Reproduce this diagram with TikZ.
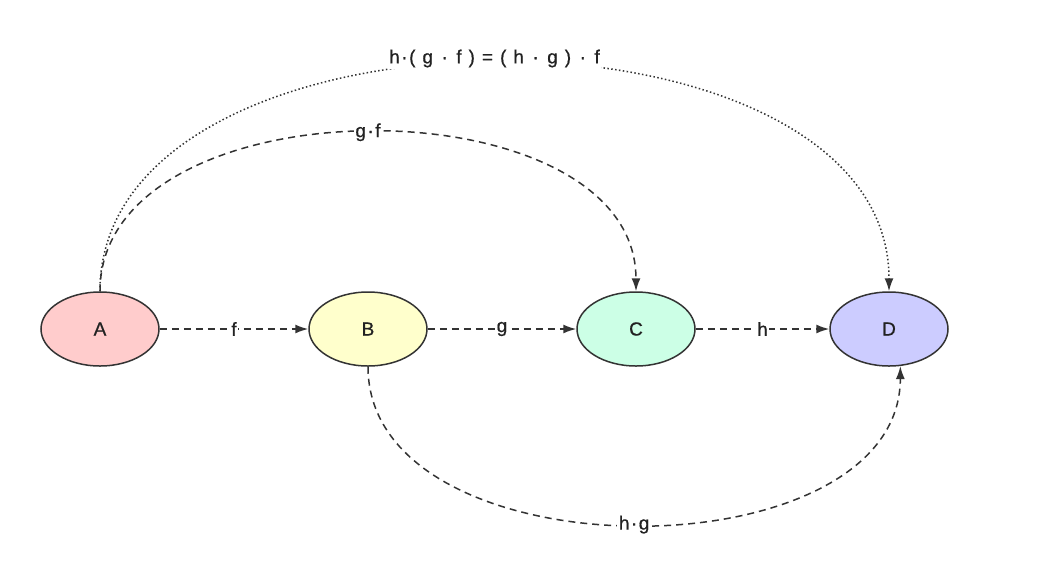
\documentclass[tikz,border=0pt]{standalone}
\usepackage{fontspec}
\setmainfont{Liberation Sans}
\newfontfamily\lblf{Liberation Sans}[FakeBold=0.7]
\usetikzlibrary{shapes.geometric,arrows.meta}
\definecolor{edgec}{HTML}{333333}
\definecolor{txtc}{HTML}{222222}
\definecolor{fillA}{HTML}{FFCCCC}
\definecolor{fillB}{HTML}{FFFFCC}
\definecolor{fillC}{HTML}{CCFFE6}
\definecolor{fillD}{HTML}{CCCCFF}
\newcommand{\mdt}{\kern1.5pt·\kern1.5pt}
\newcommand{\gapw}{\hspace{7pt}}
\tikzset{
  obj/.style={ellipse,draw=edgec,line width=1.5pt,minimum width=118pt,minimum height=74pt,inner sep=0pt,font=\lblf\fontsize{19}{21}\selectfont,text=txtc},
  arr/.style={draw=edgec,line width=1.5pt,dash pattern=on 7pt off 5pt,-{Latex[length=13pt,width=9pt]}},
  dotarr/.style={draw=edgec,line width=1.5pt,dash pattern=on 1.5pt off 2.4pt,-{Latex[length=13pt,width=9pt]}},
  lbl/.style={fill=white,inner sep=1.5pt,font=\lblf\fontsize{19}{21}\selectfont,text=txtc}
}
\begin{document}
\begin{tikzpicture}[x=1pt,y=-1pt]
\useasboundingbox[fill=white] (0,0) rectangle (1059,582);
\node[obj,fill=fillA] (A) at (100,329) {A};
\node[obj,fill=fillB] (B) at (368,329) {B};
\node[obj,fill=fillC] (C) at (636,329) {C};
\node[obj,fill=fillD] (D) at (889,329) {D};
\draw[arr] (A) -- node[lbl] {f} (B);
\draw[arr] (B) -- node[lbl] {g} (C);
\draw[arr] (C) -- node[lbl] {h} (D);
\draw[dotarr] (A.north) .. controls +(0,-305) and +(0,-305) .. node[lbl,pos=0.5,yshift=4pt] {h\mdt(\gapw g\gapw\mdt\gapw f\gapw)\gapw=\gapw(\gapw h\gapw\mdt\gapw g\gapw)\gapw\mdt\gapw f} (D.north);
\draw[arr] (A.north) .. controls +(0,-212) and +(0,-212) .. node[lbl,pos=0.5] {g\mdt f} (C.north);
\draw[arr] (B.south) .. controls +(0,211) and +(0,211) .. node[lbl,pos=0.5] {h\mdt g} (D.287);
\end{tikzpicture}
\end{document}
